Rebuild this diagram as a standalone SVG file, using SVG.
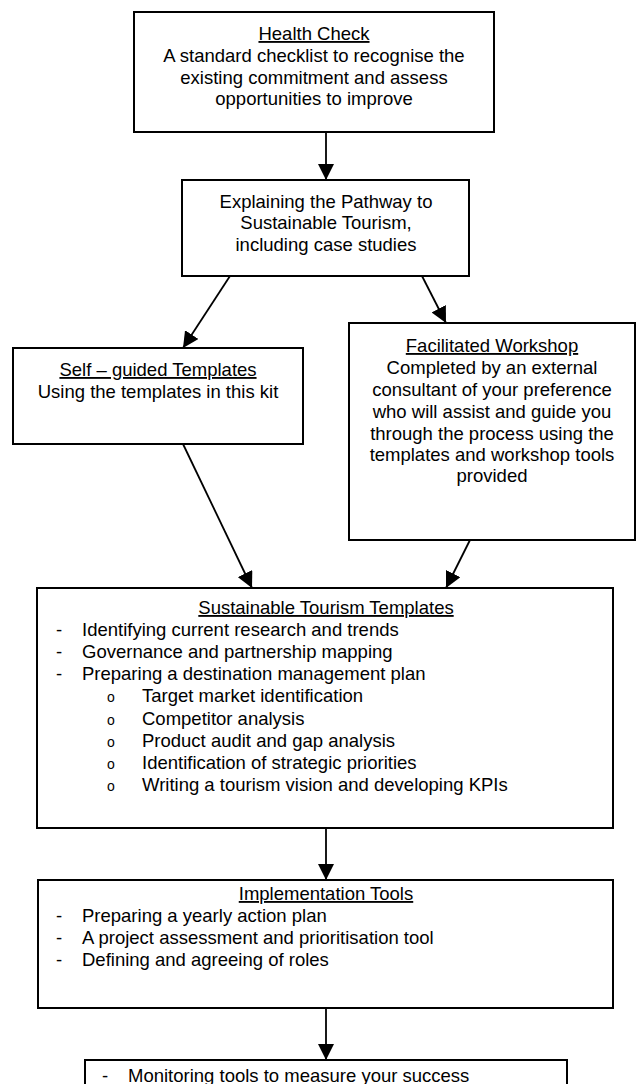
<svg xmlns="http://www.w3.org/2000/svg" width="637" height="1084" viewBox="0 0 637 1084">
<style>
.box{fill:#fff;stroke:#000;stroke-width:2}
.t{font-family:"Liberation Sans",Arial,sans-serif;font-size:18.5px;fill:#000}
.c{text-anchor:middle}
.u{text-decoration:underline}
.o{font-family:"Liberation Sans",Arial,sans-serif;font-size:14px;fill:#000}
.ln{stroke:#000;stroke-width:1.8;fill:none;marker-end:url(#ah)}
</style>
<defs>
<marker id="ah" markerUnits="userSpaceOnUse" markerWidth="16" markerHeight="16" viewBox="0 0 16 16" refX="16" refY="8" orient="auto">
<path d="M0,0 L16,8 L0,16 z" fill="#000"/>
</marker>
</defs>
<rect width="637" height="1084" fill="#fff"/>
<g id="connectors">
<line class="ln" x1="326" y1="132" x2="326" y2="180"/>
<line class="ln" x1="230" y1="276" x2="183" y2="348"/>
<line class="ln" x1="422" y1="276" x2="446" y2="323"/>
<line class="ln" x1="183" y1="444" x2="252" y2="588"/>
<line class="ln" x1="470" y1="540" x2="446" y2="588"/>
<line class="ln" x1="326" y1="828" x2="326" y2="880"/>
<line class="ln" x1="326" y1="1008" x2="326" y2="1060"/>
</g>
<g id="health-check">
<rect class="box" x="134" y="12" width="360" height="120"/>
<text class="t c u" x="314" y="40">Health Check</text>
<text class="t c" x="314" y="62">A standard checklist to recognise the</text>
<text class="t c" x="314" y="83.5">existing commitment and assess</text>
<text class="t c" x="314" y="105">opportunities to improve</text>
</g>
<g id="explaining">
<rect class="box" x="182" y="180" width="287" height="96"/>
<text class="t c" x="326" y="208">Explaining the Pathway to</text>
<text class="t c" x="326" y="229">Sustainable Tourism,</text>
<text class="t c" x="326" y="250.5">including case studies</text>
</g>
<g id="self-guided">
<rect class="box" x="13" y="348" width="290" height="96"/>
<text class="t c u" x="158" y="376">Self – guided Templates</text>
<text class="t c" x="158" y="398">Using the templates in this kit</text>
</g>
<g id="facilitated">
<rect class="box" x="349" y="323" width="286" height="217"/>
<text class="t c u" x="492" y="352">Facilitated Workshop</text>
<text class="t c" x="492" y="374">Completed by an external</text>
<text class="t c" x="492" y="396">consultant of your preference</text>
<text class="t c" x="492" y="418">who will assist and guide you</text>
<text class="t c" x="492" y="440">through the process using the</text>
<text class="t c" x="492" y="461">templates and workshop tools</text>
<text class="t c" x="492" y="482">provided</text>
</g>
<g id="sustainable-templates">
<rect class="box" x="37" y="588" width="576" height="240"/>
<text class="t c u" x="326" y="614">Sustainable Tourism Templates</text>
<text class="t" x="56" y="636">-</text>
<text class="t" x="82" y="636">Identifying current research and trends</text>
<text class="t" x="56" y="658">-</text>
<text class="t" x="82" y="658">Governance and partnership mapping</text>
<text class="t" x="56" y="680">-</text>
<text class="t" x="82" y="680">Preparing a destination management plan</text>
<text class="o" x="107" y="702">o</text>
<text class="t" x="142" y="702">Target market identification</text>
<text class="o" x="107" y="725">o</text>
<text class="t" x="142" y="725">Competitor analysis</text>
<text class="o" x="107" y="747">o</text>
<text class="t" x="142" y="747">Product audit and gap analysis</text>
<text class="o" x="107" y="769">o</text>
<text class="t" x="142" y="769">Identification of strategic priorities</text>
<text class="o" x="107" y="791">o</text>
<text class="t" x="142" y="791">Writing a tourism vision and developing KPIs</text>
</g>
<g id="implementation-tools">
<rect class="box" x="38" y="880" width="575" height="128"/>
<text class="t c u" x="326" y="900">Implementation Tools</text>
<text class="t" x="56" y="922">-</text>
<text class="t" x="82" y="922">Preparing a yearly action plan</text>
<text class="t" x="56" y="944">-</text>
<text class="t" x="82" y="944">A project assessment and prioritisation tool</text>
<text class="t" x="56" y="966">-</text>
<text class="t" x="82" y="966">Defining and agreeing of roles</text>
</g>
<g id="monitoring">
<rect class="box" x="85" y="1060" width="482" height="40"/>
<text class="t" x="102" y="1082">-</text>
<text class="t" x="128" y="1082">Monitoring tools to measure your success</text>
</g>
</svg>
